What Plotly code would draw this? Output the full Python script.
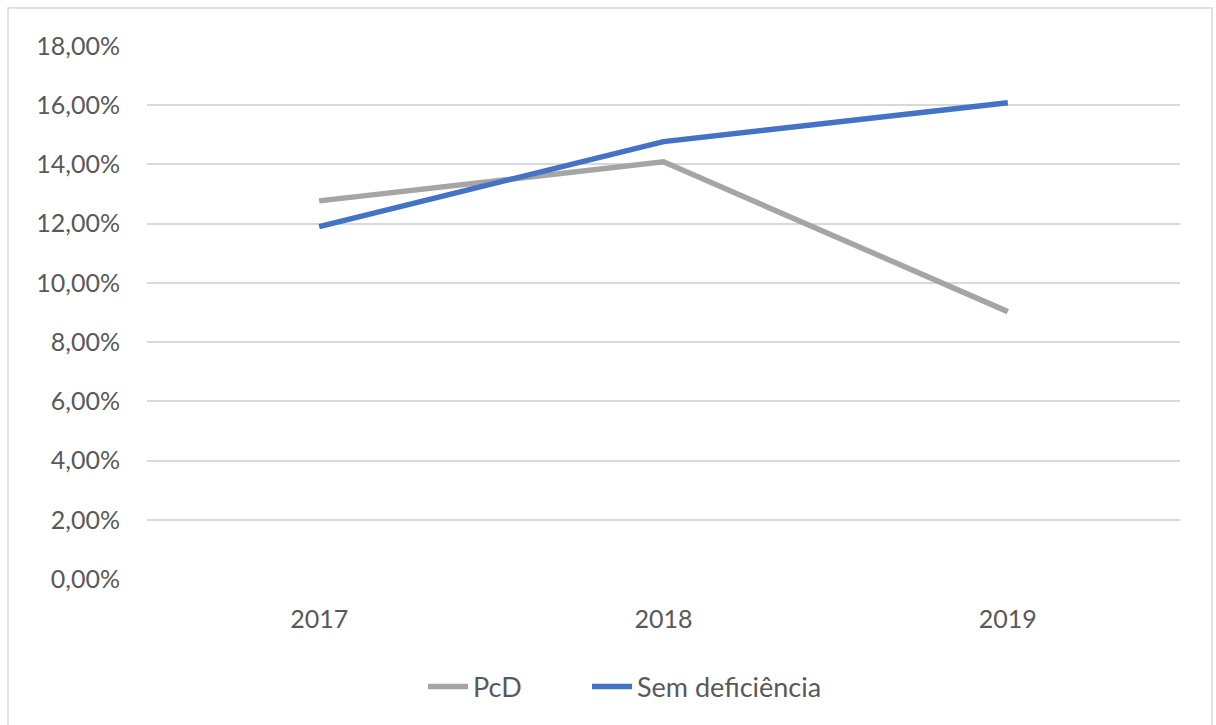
import plotly.graph_objects as go

# Taxa por ano
anos = ["2017", "2018", "2019"]
pcd = [0.1277, 0.1409, 0.0903]
sem_deficiencia = [0.1190, 0.1477, 0.1608]

W, H = 1216, 725
L, R, T, B = 147, 36, 46, 146
pw, ph = W - L - R, H - T - B

fig = go.Figure()
fig.add_trace(go.Scatter(x=anos, y=pcd, name="PcD", mode="lines", legend="legend",
                         line=dict(color="#a5a5a5", width=5.5)))
fig.add_trace(go.Scatter(x=anos, y=sem_deficiencia, name="Sem deficiência", mode="lines",
                         legend="legend2", line=dict(color="#4472c4", width=5.5)))

# pixel -> paper helpers
def px_x(v):
    return (v - L) / pw

def px_y(v):
    return (H - B - v) / ph

# light frame around the chart area
fig.add_shape(type="rect", xref="paper", yref="paper",
              x0=px_x(8), x1=px_x(1212), y0=px_y(740), y1=px_y(8),
              line=dict(color="#d9d9d9", width=1.5), fillcolor="rgba(0,0,0,0)", layer="below")

leg_common = dict(orientation="h", xanchor="left", yanchor="middle", y=px_y(687),
                  font=dict(size=27, color="#595959"), itemwidth=40,
                  bgcolor="rgba(0,0,0,0)")

fig.update_layout(
    width=W, height=H,
    margin=dict(l=L, r=R, t=T, b=B),
    paper_bgcolor="white", plot_bgcolor="white",
    separators=",.",
    font=dict(family="Lato, Carlito, Calibri, sans-serif", size=25, color="#595959"),
    showlegend=True,
    legend=dict(x=px_x(423), **leg_common),
    legend2=dict(x=px_x(587), **leg_common),
    xaxis=dict(type="category", showgrid=False, showline=False, zeroline=False,
               ticks="", ticklabelstandoff=23, range=[-0.5, 2.5]),
    yaxis=dict(range=[0, 0.18], dtick=0.02, tickformat=".2%", showgrid=True,
               gridcolor="#d9d9d9", gridwidth=1.5, zeroline=False, showline=False,
               ticks="", ticklabelstandoff=26),
)

fig.write_html("out.html")
